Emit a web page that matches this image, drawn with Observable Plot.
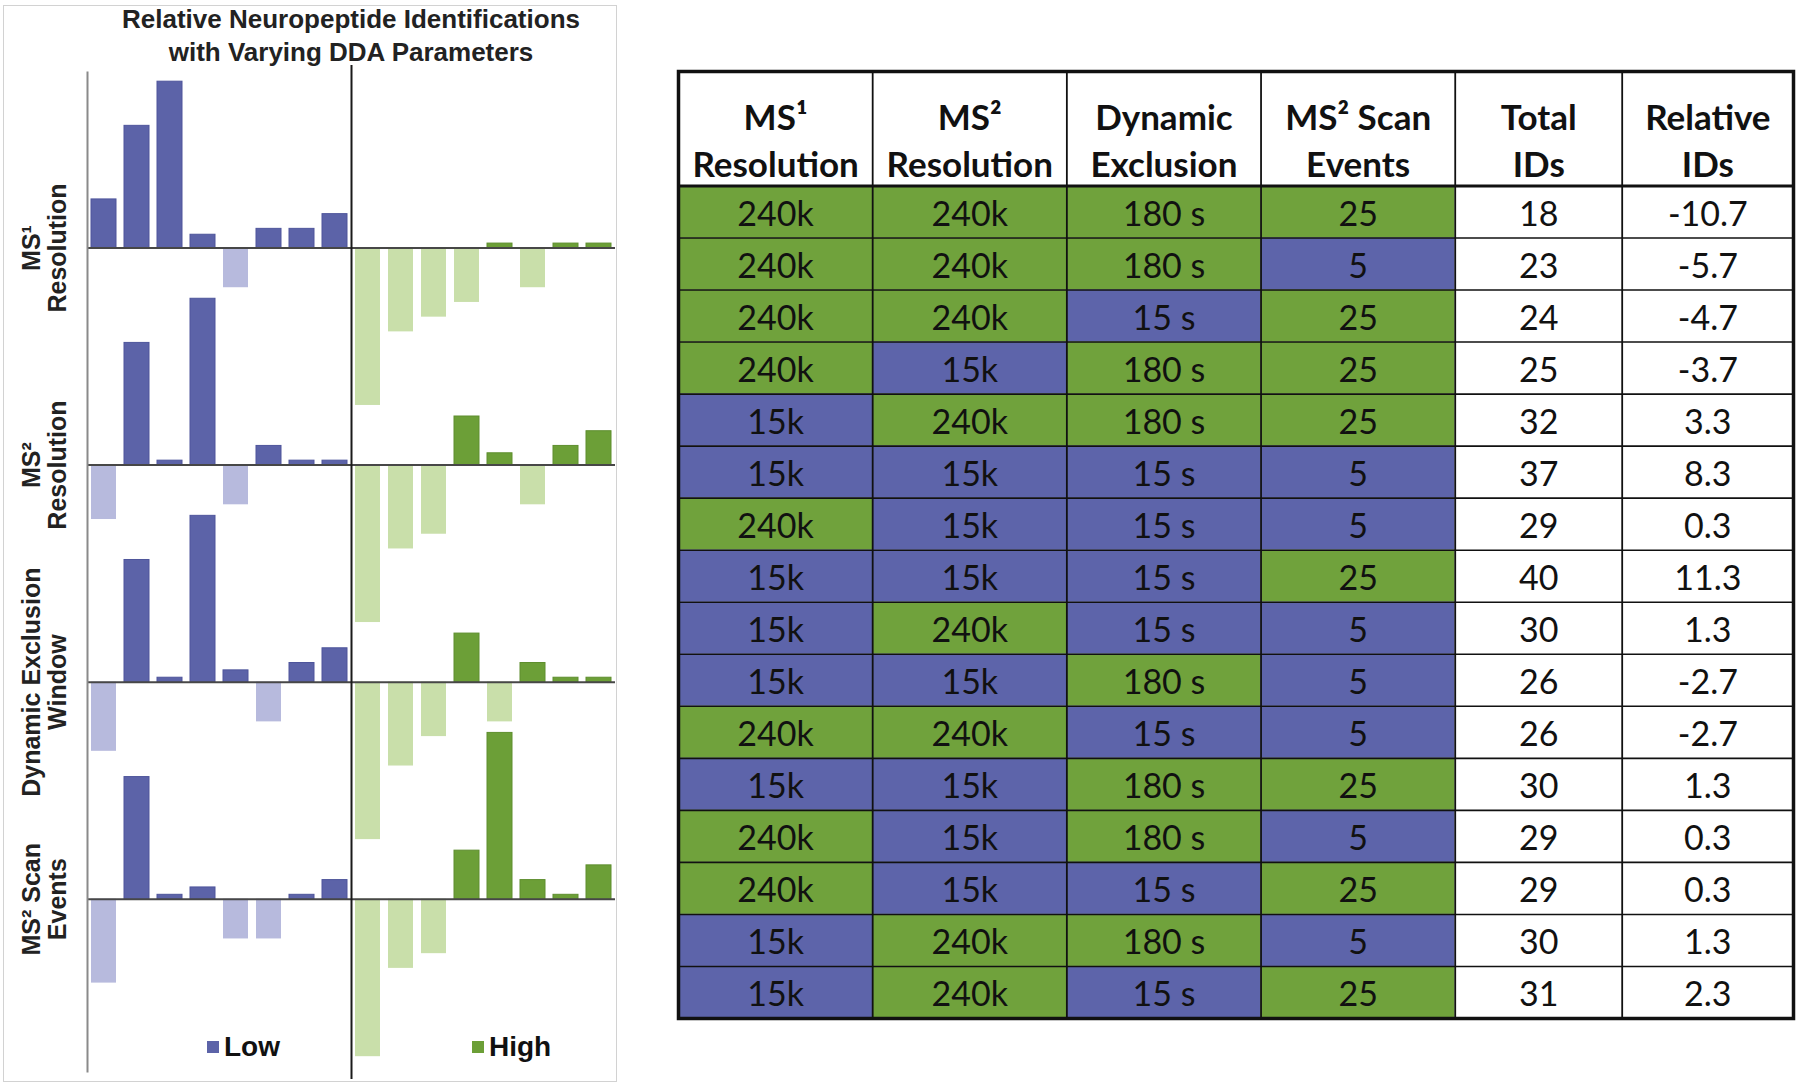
<!DOCTYPE html>
<html>
<head>
<meta charset="utf-8">
<script src="https://cdn.jsdelivr.net/npm/d3@7"></script>
<script src="https://cdn.jsdelivr.net/npm/@observablehq/plot@0.6"></script>
<style>
  body { margin: 0; background: #fff; width: 1800px; height: 1088px; position: relative; overflow: hidden;
         font-family: "Liberation Sans", Arial, sans-serif; }
  #frame { position: absolute; left: 3px; top: 5px; width: 614px; height: 1077px; border: 1px solid #d2d2d2; box-sizing: border-box; }
  #title { position: absolute; left: 80px; width: 542px; top: 3px; text-align: center; font-weight: bold;
           font-size: 26px; line-height: 32.5px; color: #222; }
  #chart { position: absolute; left: 0; top: 60px; }
  #table { position: absolute; left: 660px; top: 0; }
  .legend { position: absolute; top: 1029px; font-weight: bold; font-size: 28px; color: #111;
            display: flex; align-items: center; line-height: 36px; }
  .sw { width: 12px; height: 12px; margin-right: 5px; display: inline-block; }
</style>
</head>
<body>
<div id="frame"></div>
<div id="title">Relative Neuropeptide Identifications<br>with Varying DDA Parameters</div>
<div id="chart"></div>
<div class="legend" style="left:207px"><span class="sw" style="background:#5C63A8"></span>Low</div>
<div class="legend" style="left:472px"><span class="sw" style="background:#6C9F37"></span>High</div>
<div id="table"></div>
<script>
// ---------- Bar chart data (relative IDs) ----------
const rowLabels = ["MS¹\nResolution", "MS²\nResolution", "Dynamic Exclusion\nWindow", "MS² Scan\nEvents"];
const ms1Low   = [3.3, 8.3, 11.3, 0.9, -2.7, 1.3, 1.3, 2.3];
const ms1High  = [-10.7, -5.7, -4.7, -3.7, 0.3, -2.7, 0.3, 0.3];
const ms2Low   = [-3.7, 8.3, 0.3, 11.3, -2.7, 1.3, 0.3, 0.3];
const ms2High  = [-10.7, -5.7, -4.7, 3.3, 0.8, -2.7, 1.3, 2.3];
const dewLow   = [-4.7, 8.3, 0.3, 11.3, 0.8, -2.7, 1.3, 2.3];
const dewHigh  = [-10.7, -5.7, -3.7, 3.3, -2.7, 1.3, 0.3, 0.3];
const scanLow  = [-5.7, 8.3, 0.3, 0.8, -2.7, -2.7, 0.3, 1.3];
const scanHigh = [-10.7, -4.7, -3.7, 3.3, 11.3, 1.3, 0.3, 2.3];

// ---------- Table data ----------
const tableHeaders = ["MS¹\nResolution", "MS²\nResolution", "Dynamic\nExclusion", "MS² Scan\nEvents", "Total\nIDs", "Relative\nIDs"];
const ms1Resolution = ["240k","240k","240k","240k","15k","15k","240k","15k","15k","15k","240k","15k","240k","240k","15k","15k"];
const ms2Resolution = ["240k","240k","240k","15k","240k","15k","15k","15k","240k","15k","240k","15k","15k","15k","240k","240k"];
const dynamicExclusion = ["180 s","180 s","15 s","180 s","180 s","15 s","15 s","15 s","15 s","180 s","15 s","180 s","180 s","15 s","180 s","15 s"];
const scanEvents = ["25","5","25","25","25","5","5","25","5","5","5","25","5","25","5","25"];
const totalIDs = ["18","23","24","25","32","37","29","40","30","26","26","30","29","29","30","31"];
const relativeIDs = ["-10.7","-5.7","-4.7","-3.7","3.3","8.3","0.3","11.3","1.3","-2.7","-2.7","1.3","0.3","0.3","1.3","2.3"];
const highLevels = ["240k", "180 s", "25"];

// ---------- Colours ----------
const darkBlue = "#5C63A8", lightBlue = "#B7BADD", darkGreen = "#6C9F37", lightGreen = "#C9DFAA";
const cellGreen = "#70A23C", cellBlue = "#5D64AA";

// ---------- Bar chart ----------
const rowGap = 14.75;
const groups = [[ms1Low, ms1High], [ms2Low, ms2High], [dewLow, dewHigh], [scanLow, scanHigh]];
const bars = [];
groups.forEach(([low, high], r) => {
  low.forEach((v, i) => bars.push({slot: i, base: -r * rowGap, value: v, side: "low"}));
  high.forEach((v, i) => bars.push({slot: low.length + i, base: -r * rowGap, value: v, side: "high"}));
});
const nSlots = ms1Low.length + ms1High.length;
const rowBases = groups.map((g, r) => -r * rowGap);
const yTop = 12.4, yBottom = -3 * rowGap - 12.25;

function barMark(side, sign, fill, stroke) {
  return Plot.rect(bars, {
    filter: d => d.side === side && (sign > 0 ? d.value >= 0 : d.value < 0),
    x1: "slot", x2: d => d.slot + 1, y1: "base", y2: d => d.base + d.value,
    insetLeft: 4, insetRight: 4, fill, stroke, strokeWidth: stroke ? 1 : 0
  });
}

const chart = Plot.plot({
  width: 620, height: 1028,
  marginLeft: 87, marginRight: 5, marginTop: 5, marginBottom: 9,
  x: {domain: [0, nSlots], axis: null},
  y: {domain: [yBottom, yTop], axis: null},
  style: {background: "transparent", overflow: "visible"},
  marks: [
    barMark("low", -1, lightBlue),
    barMark("high", -1, lightGreen),
    barMark("low", 1, darkBlue, "#4E559B"),
    barMark("high", 1, darkGreen, "#5E8E2E"),
    Plot.ruleY(rowBases, {x1: 0, x2: nSlots, stroke: "#474747", strokeWidth: 2}),
    Plot.ruleX([0], {y1: yTop - 0.45, y2: yBottom + 0.45, stroke: "#8a8a8a", strokeWidth: 2}),
    Plot.ruleX([nSlots / 2], {stroke: "#1a1a1a", strokeWidth: 2}),
    Plot.text(rowLabels, {
      y: (d, i) => rowBases[i], frameAnchor: "left", textAnchor: "middle", lineAnchor: "middle",
      dx: -43, rotate: -90,
      fontSize: 25, fontWeight: "bold", lineHeight: 1.04, fill: "#222",
      fontFamily: "Liberation Sans, Arial, sans-serif"
    })
  ]
});
document.getElementById("chart").append(chart);

// ---------- Table ----------
const colWeights = [1.163, 1.163, 1.163, 1.163, 1.0, 1.026];
const edges = Array.from(d3.cumsum([0, ...colWeights]));
const headerH = 2.2;
const columns = [ms1Resolution, ms2Resolution, dynamicExclusion, scanEvents, totalIDs, relativeIDs];
const nRows = ms1Resolution.length;
const yMax = headerH + nRows;
const cells = [];
columns.forEach((col, c) => col.forEach((v, r) => cells.push({
  label: v, x1: edges[c], x2: edges[c + 1], y1: headerH + r, y2: headerH + r + 1,
  fill: c < 4 ? (highLevels.includes(v) ? cellGreen : cellBlue) : "white"
})));

const table = Plot.plot({
  width: 1140, height: 1088,
  marginLeft: 18, marginRight: 7, marginTop: 71, marginBottom: 70,
  x: {domain: [0, edges[edges.length - 1]], axis: null},
  y: {domain: [0, yMax], reverse: true, axis: null},
  color: {type: "identity"},
  style: {background: "transparent", overflow: "visible"},
  marks: [
    Plot.rect(cells, {x1: "x1", x2: "x2", y1: "y1", y2: "y2", fill: "fill"}),
    Plot.ruleY(d3.range(nRows + 1).map(r => headerH + r), {x1: 0, x2: edges[edges.length - 1], stroke: "#111", strokeWidth: 1.6}),
    Plot.ruleX(edges, {y1: 0, y2: yMax, stroke: "#111", strokeWidth: 1.8}),
    Plot.ruleY([headerH], {x1: 0, x2: edges[edges.length - 1], stroke: "#111", strokeWidth: 3}),
    Plot.frame({stroke: "#111", strokeWidth: 3.5}),
    Plot.text(cells, {
      x: d => (d.x1 + d.x2) / 2, y: d => d.y1 + 0.5, text: "label",
      fontSize: 34, fontFamily: "Lato, sans-serif", fill: "#111", dy: 3
    }),
    Plot.text(tableHeaders, {
      x: (d, i) => (edges[i] + edges[i + 1]) / 2, y: headerH / 2,
      fontSize: 35, fontWeight: "bold", fontFamily: "Lato, sans-serif", fill: "#111",
      lineHeight: 1.32, dy: 10
    })
  ]
});
document.getElementById("table").append(table);
</script>
</body>
</html>
